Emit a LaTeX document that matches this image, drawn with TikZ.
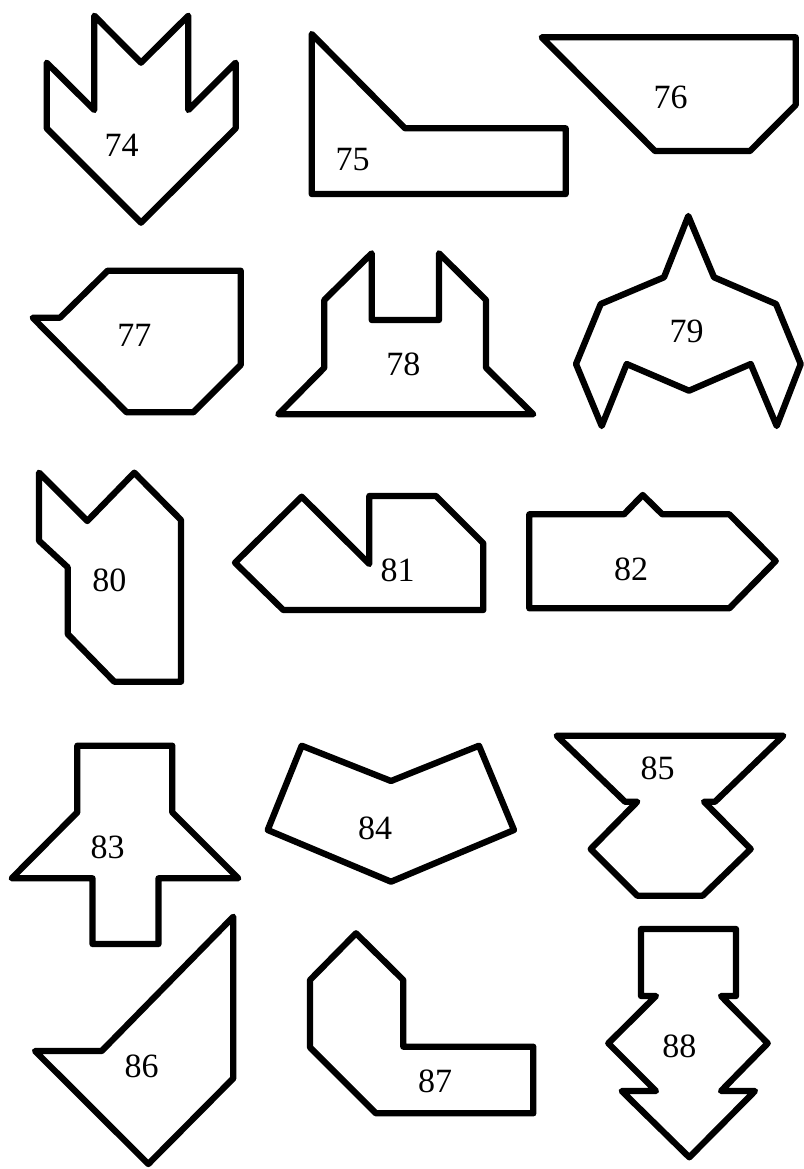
\documentclass[tikz,border=0pt]{standalone}
\usepackage{fontspec}
\setmainfont{Liberation Serif}
\usepackage{tikz}
\tikzset{
  piece/.style={draw=black,line width=6.3pt,line join=round,line cap=round},
  num/.style={font=\fontsize{34}{40}\selectfont,inner sep=0pt}
}

\begin{document}
\begin{tikzpicture}[x=1pt,y=-1pt]
      \useasboundingbox (0,0) rectangle (803,1169);
      % row 1
      \draw[piece] (94.3,15.7) -- (141,62.7) -- (188.3,15.7) -- (188.3,110) -- (235.7,62.7) -- (235.7,128.3)
        -- (141,222.7) -- (46.7,128.3) -- (46.7,62.7) -- (94.3,110) -- cycle;
      \node[num] (n74) at (121.7,145) {74};
      \draw[piece] (311.7,34) -- (405,128.3) -- (565.7,128.3) -- (565.7,194) -- (311.7,194) -- cycle;
      \node[num] (n75) at (352.7,160) {75};
      \draw[piece] (541.7,37.3) -- (795.7,37.3) -- (795.7,105) -- (750,151) -- (655,151) -- cycle;
      \node[num] (n76) at (670.7,97.3) {76};
      % row 2
      \draw[piece] (32.7,317.7) -- (60,317.7) -- (107.7,270.7) -- (240.7,270.7) -- (240.7,365) -- (193.3,412.3)
        -- (126.7,412.3) -- cycle;
      \node[num] (n77) at (134.3,335) {77};
      \draw[piece] (278.3,414.3) -- (324.3,367.7) -- (324.3,300) -- (371.7,253.3) -- (371.7,320) -- (439,320)
        -- (439,253.3) -- (486,300) -- (486,367.7) -- (533.3,414.3) -- cycle;
      \node[num] (n78) at (403.3,364.3) {78};
      \draw[piece] (688.3,216) -- (714,277.3) -- (776,304) -- (800.7,364) -- (776.7,426) -- (750.7,364)
        -- (689,390.7) -- (626.7,364) -- (601.7,426) -- (576,364) -- (600.7,304) -- (664,277.3) -- cycle;
      \node[num] (n79) at (686.7,331) {79};
      % row 3
      \draw[piece] (39,472.7) -- (87.3,521) -- (134.3,472.7) -- (181,520) -- (181,681.7) -- (114.3,681.7)
        -- (67.7,634) -- (67.7,567.3) -- (39,540.7) -- cycle;
      \node[num] (n80) at (109.3,580.7) {80};
      \draw[piece] (235,562.7) -- (301.7,496.7) -- (369.3,564) -- (369.3,496) -- (436,496) -- (483.3,543.3)
        -- (483.3,610) -- (283.3,610) -- cycle;
      \node[num] (n81) at (397.7,570) {81};
      \draw[piece] (529.3,514.3) -- (624,514.3) -- (642.7,495) -- (662.3,514.3) -- (729.3,514.3) -- (775.7,561)
        -- (729.3,608.3) -- (529.3,608.3) -- cycle;
      \node[num] (n82) at (631,569.3) {82};
      % row 4
      \draw[piece] (77.3,745.7) -- (172.3,745.7) -- (172.3,812.3) -- (238.3,878.3) -- (158.5,878.3) -- (158.5,944)
        -- (92.5,944) -- (92.5,878.3) -- (11.7,878.3) -- (77.3,812.3) -- cycle;
      \node[num] (n83) at (107.7,847.3) {83};
      \draw[piece] (301.7,745.7) -- (391,781) -- (479,745.7) -- (514,830) -- (391,881.7) -- (267.7,830) -- cycle;
      \node[num] (n84) at (375,828.3) {84};
      \draw[piece] (556.7,735.7) -- (783.3,735.7) -- (715,801.7) -- (704,801.7) -- (750.7,849) -- (702.7,895.7)
        -- (637.3,895.7) -- (590.7,849) -- (637.3,801.7) -- (625,801.7) -- cycle;
      \node[num] (n85) at (657.7,768.3) {85};
      % row 5
      \draw[piece] (233.3,916.7) -- (233.3,1078.3) -- (148.3,1164) -- (35,1051) -- (101.7,1051) -- cycle;
      \node[num] (n86) at (141.7,1066.7) {86};
      \draw[piece] (356,933.3) -- (403.3,980) -- (403.3,1046.7) -- (533.3,1046.7) -- (533.3,1113.3) -- (376,1113.3)
        -- (310,1047.3) -- (310,980) -- cycle;
      \node[num] (n87) at (435,1081.7) {87};
      \draw[piece] (641,929) -- (736,929) -- (736,996) -- (721,996) -- (767.7,1043.3) -- (721,1091) -- (755,1091)
        -- (689.3,1157.3) -- (621.7,1091) -- (656,1091) -- (608.3,1043.3) -- (656,996) -- (641,996) -- cycle;
      \node[num] (n88) at (679.3,1046) {88};
\end{tikzpicture}
\end{document}
